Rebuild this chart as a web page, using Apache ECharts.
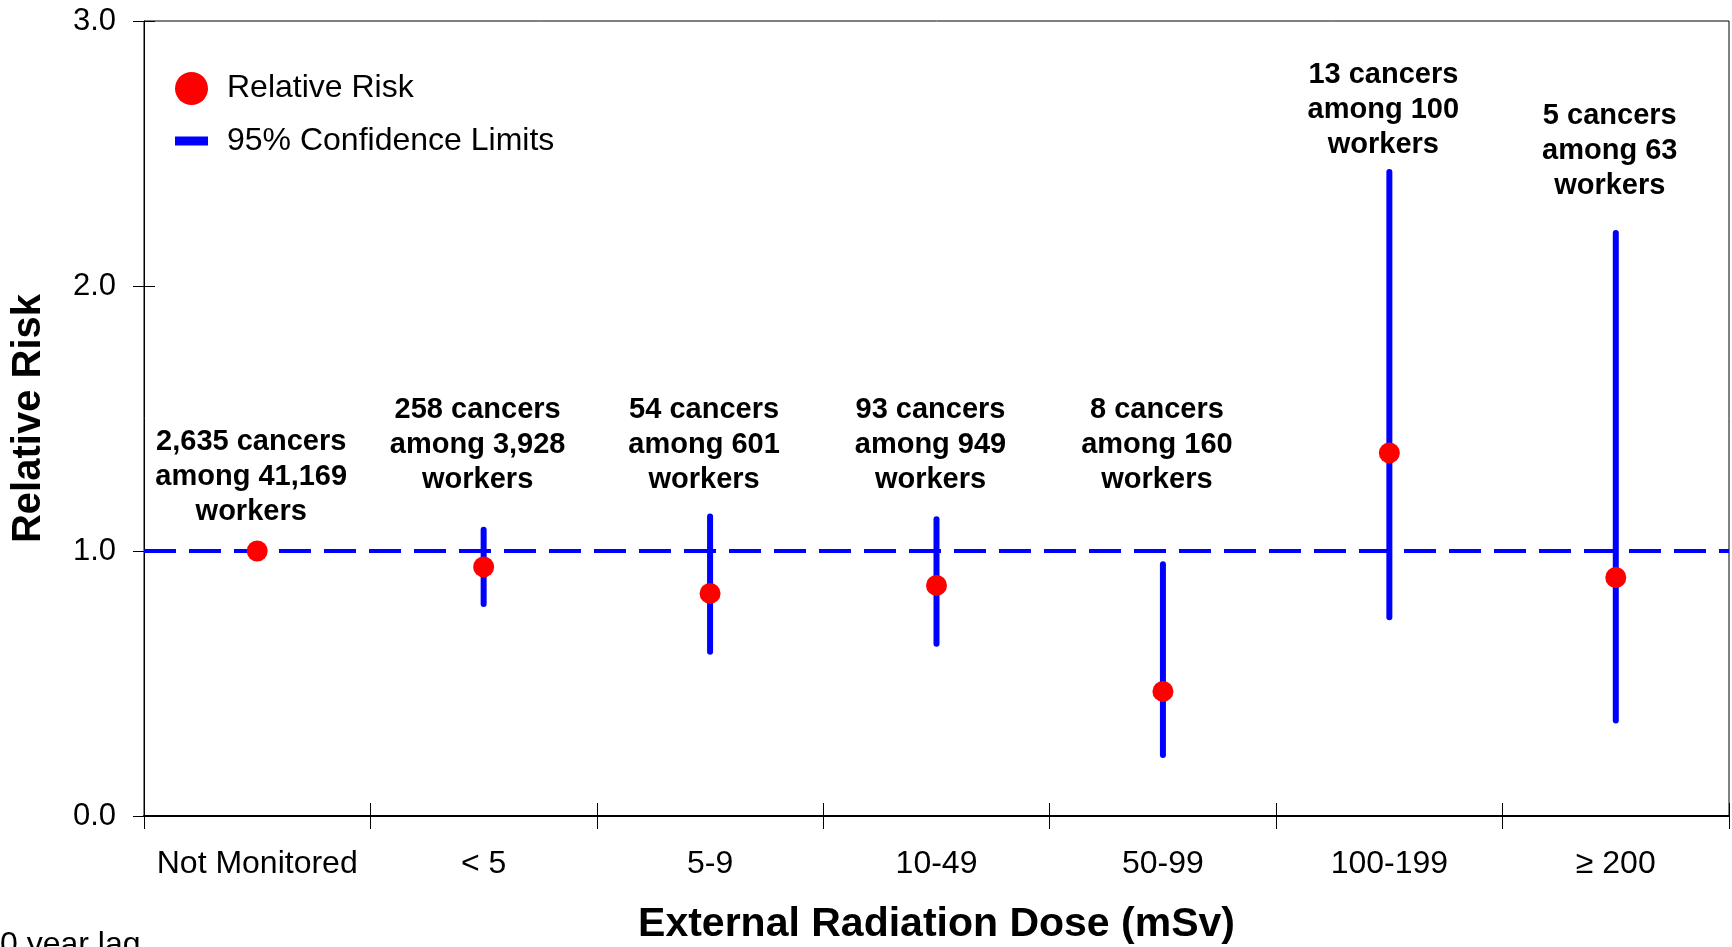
<!DOCTYPE html>
<html>
<head>
<meta charset="utf-8">
<title>Relative Risk by External Radiation Dose</title>
<script src="https://cdn.jsdelivr.net/npm/echarts@6/dist/echarts.min.js"></script>
<style>
  html, body { margin: 0; padding: 0; background: #fff; }
  #main { width: 1732px; height: 947px; }
</style>
</head>
<body>
<div id="main"></div>
<script>
// dose groups (x axis)
var doseGroups = ['Not Monitored', '< 5', '5-9', '10-49', '50-99', '100-199', '\u2265 200'];
// relative risk point estimates
var relRisk = [1.0, 0.94, 0.84, 0.87, 0.47, 1.37, 0.90];
// 95% confidence limits (null = not shown)
var ciLow  = [null, 0.80, 0.62, 0.65, 0.23, 0.75, 0.36];
var ciHigh = [null, 1.08, 1.13, 1.12, 0.95, 2.43, 2.20];
// case counts written above each group
var notes = [
    '2,635 cancers\namong 41,169\nworkers',
    '258 cancers\namong 3,928\nworkers',
    '54 cancers\namong 601\nworkers',
    '93 cancers\namong 949\nworkers',
    '8 cancers\namong 160\nworkers',
    '13 cancers\namong 100\nworkers',
    '5 cancers\namong 63\nworkers'
];
// where each note sits on the risk scale (middle line)
var noteAt = [1.28, 1.40, 1.40, 1.40, 1.40, 2.665, 2.51];

var FONT = '"Liberation Sans", Arial, sans-serif';
var BLUE = '#0000ff';
var RED = '#ff0000';

var myChart = echarts.init(document.getElementById('main'));

var ciData = [];
ciLow.forEach(function (v, i) {
    if (v !== null) {
        ciData.push([i, v, ciHigh[i]]);
    }
});

var pointData = relRisk.map(function (v, i) {
    return [i, v];
});

var noteData = notes.map(function (t, i) {
    return { value: [i, noteAt[i]], text: t };
});

var gridBox = { left: 144, right: 3, top: 21, bottom: 131 };

var option = {
    animation: false,
    textStyle: { fontFamily: FONT },
    grid: [
        {
            left: gridBox.left,
            right: gridBox.right,
            top: gridBox.top,
            bottom: gridBox.bottom,
            outerBoundsMode: 'none',
            containLabel: false,
            show: true,
            borderColor: '#000',
            borderWidth: 1
        },
        {
            // second grid only carries the inward half of the ticks
            left: gridBox.left,
            right: gridBox.right,
            top: gridBox.top,
            bottom: gridBox.bottom,
            outerBoundsMode: 'none',
            containLabel: false,
            show: false
        }
    ],
    legend: [
        {
            left: 170,
            top: 67,
            itemWidth: 33,
            itemHeight: 33,
            data: [{ name: 'Relative Risk', icon: 'circle' }],
            textStyle: { fontSize: 32, color: '#000', fontFamily: FONT, padding: [0, 0, 0, 14] },
            selectedMode: false
        },
        {
            left: 170,
            top: 120,
            itemWidth: 33,
            itemHeight: 9,
            data: [{ name: '95% Confidence Limits', icon: 'rect', itemStyle: { color: BLUE } }],
            textStyle: { fontSize: 32, color: '#000', fontFamily: FONT, padding: [0, 0, 0, 14] },
            selectedMode: false
        }
    ],
    xAxis: [
        {
            type: 'category',
            gridIndex: 0,
            data: doseGroups,
            position: 'bottom',
            name: 'External Radiation Dose (mSv)',
            nameLocation: 'middle',
            nameGap: 88,
            nameTextStyle: { fontSize: 41, fontWeight: 'bold', color: '#000', fontFamily: FONT },
            axisLine: { show: true, lineStyle: { color: '#000', width: 2 } },
            axisTick: { show: true, length: 13, lineStyle: { color: '#000' } },
            axisLabel: { interval: 0, fontSize: 32, color: '#000', margin: 32, fontFamily: FONT },
            splitLine: { show: false }
        },
        {
            type: 'category',
            gridIndex: 1,
            data: doseGroups,
            position: 'bottom',
            axisLine: { show: false },
            axisTick: { show: true, inside: true, length: 13, lineStyle: { color: '#000' } },
            axisLabel: { show: false },
            splitLine: { show: false }
        }
    ],
    yAxis: [
        {
            type: 'value',
            gridIndex: 0,
            min: 0,
            max: 3,
            interval: 1,
            position: 'left',
            name: 'Relative Risk',
            nameLocation: 'middle',
            nameGap: 95,
            nameRotate: 90,
            nameTextStyle: { fontSize: 40, fontWeight: 'bold', color: '#000', fontFamily: FONT },
            axisLine: { show: true, lineStyle: { color: '#000', width: 1 } },
            axisTick: { show: true, length: 11, lineStyle: { color: '#000' } },
            axisLabel: {
                fontSize: 31,
                color: '#000',
                margin: 28,
                fontFamily: FONT,
                formatter: function (v) { return v.toFixed(1); }
            },
            splitLine: { show: false }
        },
        {
            type: 'value',
            gridIndex: 1,
            min: 0,
            max: 3,
            interval: 1,
            position: 'left',
            axisLine: { show: false },
            axisTick: { show: true, inside: true, length: 11, lineStyle: { color: '#000' } },
            axisLabel: { show: false },
            splitLine: { show: false }
        }
    ],
    series: [
        {
            name: '95% Confidence Limits',
            type: 'custom',
            xAxisIndex: 0,
            yAxisIndex: 0,
            z: 3,
            itemStyle: { color: BLUE },
            encode: { x: 0, y: [1, 2] },
            renderItem: function (params, api) {
                var lo = api.coord([api.value(0), api.value(1)]);
                var hi = api.coord([api.value(0), api.value(2)]);
                return {
                    type: 'line',
                    shape: { x1: lo[0], y1: lo[1], x2: hi[0], y2: hi[1] },
                    style: { stroke: BLUE, lineWidth: 6, lineCap: 'round' }
                };
            },
            data: ciData
        },
        {
            name: 'Relative Risk',
            type: 'scatter',
            xAxisIndex: 0,
            yAxisIndex: 0,
            z: 4,
            symbol: 'circle',
            symbolSize: 21,
            itemStyle: { color: RED, opacity: 1 },
            data: pointData,
            markLine: {
                silent: true,
                symbol: 'none',
                z: 2,
                label: { show: false },
                lineStyle: { color: BLUE, width: 4, type: [32, 13], opacity: 1 },
                data: [{ yAxis: 1 }]
            }
        },
        {
            name: 'notes',
            type: 'scatter',
            xAxisIndex: 0,
            yAxisIndex: 0,
            silent: true,
            symbolSize: 1,
            itemStyle: { color: '#fff', opacity: 1 },
            label: {
                show: true,
                position: 'inside',
                offset: [-6, 0],
                align: 'center',
                verticalAlign: 'middle',
                fontSize: 29,
                lineHeight: 35,
                fontWeight: 'bold',
                color: '#000',
                opacity: 1,
                textBorderWidth: 0,
                fontFamily: FONT,
                formatter: function (p) { return p.data.text; }
            },
            data: noteData
        },
        {
            // keeps the second grid's axes alive
            name: 'ticks',
            type: 'scatter',
            xAxisIndex: 1,
            yAxisIndex: 1,
            silent: true,
            symbolSize: 0,
            data: []
        }
    ],
    graphic: [
        {
            type: 'text',
            left: 0,
            top: 929,
            style: { text: '0 year lag', fontSize: 32, fill: '#000', fontFamily: FONT }
        }
    ]
};

myChart.setOption(option);
</script>
</body>
</html>
